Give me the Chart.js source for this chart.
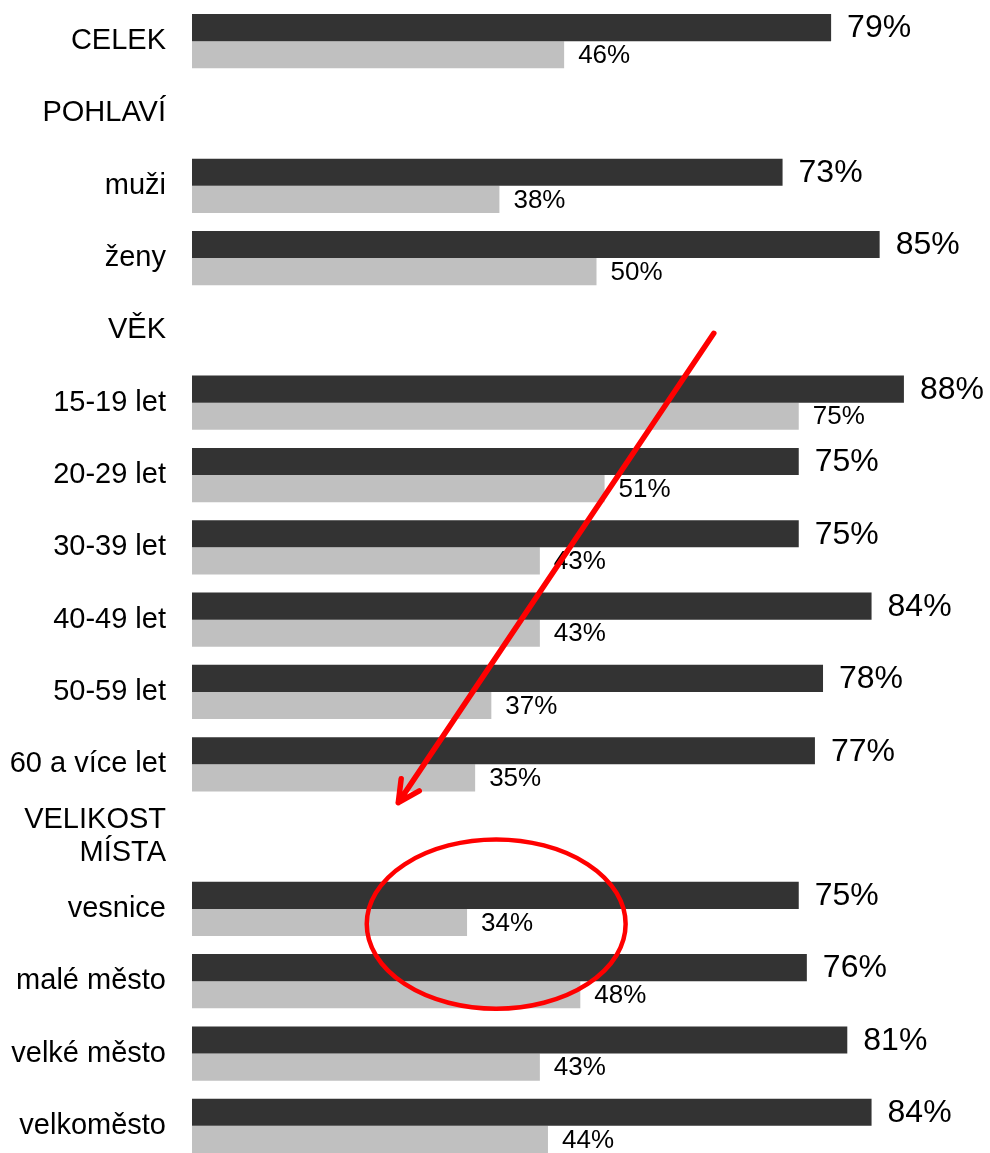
<!DOCTYPE html>
<html>
<head>
<meta charset="utf-8">
<script src="https://cdn.jsdelivr.net/npm/chart.js@4.4.0/dist/chart.umd.min.js"></script>
<style>
  html, body { margin: 0; padding: 0; background: #fff; overflow: hidden; }
  #wrap { width: 1001px; height: 1162px; }
</style>
</head>
<body>
<div id="wrap"><canvas id="chart"></canvas></div>
<script>
const categories = ['CELEK', 'POHLAVÍ', 'muži', 'ženy', 'VĚK', '15-19 let', '20-29 let', '30-39 let',
    '40-49 let', '50-59 let', '60 a více let', ['VELIKOST', 'MÍSTA'], 'vesnice', 'malé město',
    'velké město', 'velkoměsto'];
const darkValues = [79, null, 73, 85, null, 88, 75, 75, 84, 78, 77, null, 75, 76, 81, 84];
const lightValues = [46, null, 38, 50, null, 75, 51, 43, 43, 37, 35, null, 34, 48, 43, 44];

// red marks drawn over the chart, in data units (x = %, y = category index)
const arrowFrom = [64.5, 4.04];
const arrowTo = [25.5, 10.53];
const ellipseCenter = [37.6, 12.21];
const ellipseRadius = [16, 1.17];

const fontName = "'Liberation Sans', Arial, sans-serif";

//value labels at the end of each bar
const valueLabels = {
    id: 'valueLabels',
    afterDatasetsDraw(chart) {
        const ctx = chart.ctx;
        chart.data.datasets.forEach((ds, i) => {
            const meta = chart.getDatasetMeta(i);
            const big = i === 0;
            meta.data.forEach((bar, j) => {
                const v = ds.data[j];
                if (v === null) return;
                ctx.save();
                ctx.font = (big ? 32 : 26) + 'px ' + fontName;
                ctx.fillStyle = '#000';
                ctx.textAlign = 'left';
                ctx.textBaseline = 'middle';
                ctx.fillText(v + '%', bar.x + (big ? 16 : 14), bar.y + 1);
                ctx.restore();
            });
        });
    }
};

//red arrow and circle
const redMarks = {
    id: 'redMarks',
    afterDraw(chart) {
        const ctx = chart.ctx;
        const xs = chart.scales.x, ys = chart.scales.y;
        const x1 = xs.getPixelForValue(arrowFrom[0]), y1 = ys.getPixelForValue(arrowFrom[1]);
        const x2 = xs.getPixelForValue(arrowTo[0]), y2 = ys.getPixelForValue(arrowTo[1]);
        ctx.save();
        ctx.strokeStyle = '#ff0000';
        ctx.lineWidth = 5.5;
        ctx.lineCap = 'round';
        ctx.lineJoin = 'round';
        ctx.beginPath();
        ctx.moveTo(x1, y1);
        ctx.lineTo(x2, y2);
        const back = Math.atan2(y1 - y2, x1 - x2);
        const head = 24, spread = 27 * Math.PI / 180;
        ctx.moveTo(x2 + head * Math.cos(back - spread), y2 + head * Math.sin(back - spread));
        ctx.lineTo(x2, y2);
        ctx.lineTo(x2 + head * Math.cos(back + spread), y2 + head * Math.sin(back + spread));
        ctx.stroke();

        const cx = xs.getPixelForValue(ellipseCenter[0]), cy = ys.getPixelForValue(ellipseCenter[1]);
        const rx = xs.getPixelForValue(ellipseCenter[0] + ellipseRadius[0]) - cx;
        const ry = ys.getPixelForValue(ellipseCenter[1] + ellipseRadius[1]) - cy;
        ctx.lineWidth = 4.5;
        ctx.beginPath();
        ctx.ellipse(cx, cy, rx, ry, 0, 0, Math.PI * 2);
        ctx.stroke();
        ctx.restore();
    }
};

const chart = new Chart(document.getElementById('chart'), {
    type: 'bar',
    data: {
        labels: categories,
        datasets: [
            { data: darkValues, backgroundColor: '#333333', categoryPercentage: 0.75, barPercentage: 1.0 },
            { data: lightValues, backgroundColor: '#c0c0c0', categoryPercentage: 0.75, barPercentage: 1.0 }
        ]
    },
    options: {
        indexAxis: 'y',
        maintainAspectRatio: false,
        responsive: true,
        animation: false,
        layout: { padding: { top: 5, left: 0, right: 0, bottom: 0 } },
        plugins: {
            legend: { display: false },
            tooltip: { enabled: false }
        },
        scales: {
            x: {
                display: false,
                min: 0,
                max: 100
            },
            y: {
                afterFit(scale) {
                    scale.width = 192;
                    // no extra room above/below the category band
                    scale.paddingTop = 0;
                    scale.paddingBottom = 0;
                },
                border: { display: false },
                grid: { display: false, drawTicks: false },
                ticks: {
                    padding: 26,
                    color: '#000',
                    autoSkip: false,
                    font: { family: fontName, size: 29, lineHeight: 1.15 }
                }
            }
        }
    },
    plugins: [valueLabels, redMarks]
});
</script>
</body>
</html>
